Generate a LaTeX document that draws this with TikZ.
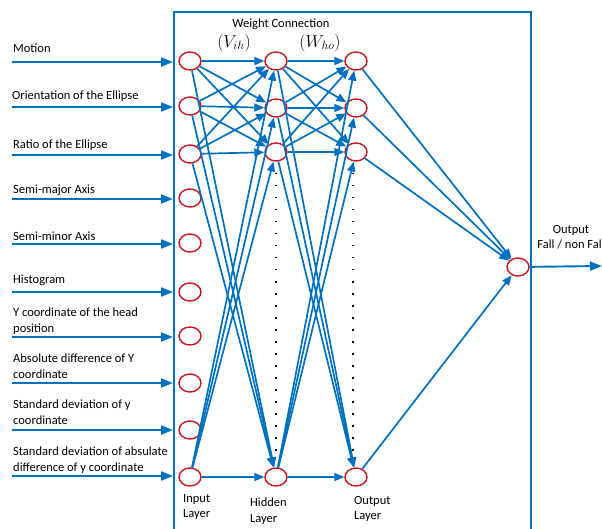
\documentclass[tikz,border=0pt]{standalone}
\usepackage{fontspec}
\setmainfont{Carlito}
\usepackage{tikz}
\usetikzlibrary{
  arrows.meta,
  shapes.geometric
}
\definecolor{netblue}{RGB}{0,112,192}
\definecolor{netred}{RGB}{200,20,30}

\begin{document}
\begin{tikzpicture}[x=1pt,y=-1pt,
          neuron/.style={
              ellipse,
              draw=netred,
              line width=1.4pt,
              minimum width=22pt,
              minimum height=18pt,
              inner sep=0pt
            },link/.style={
              draw=netblue,
              line width=1.7pt,
              -{Triangle[length=10pt,width=8pt]}
            },feed/.style={
              draw=netblue,
              line width=1.9pt,
              -{Triangle[length=12pt,width=9pt]}
            },feature/.style={
              anchor=west,
              align=left,
              inner sep=0pt,
              font=\fontsize{12.5}{16}\selectfont
            },layername/.style={
              anchor=west,
              align=left,
              inner sep=0pt,
              font=\fontsize{12.5}{15.5}\selectfont
            },dotline/.style={
              line width=1.5pt,
              dash pattern=on 1.5pt off 10.5pt
            }
        ]
        \useasboundingbox (0,0) rectangle (602,529);

        % network box (open at the bottom)
        \draw[netblue, line width=2.5pt] (174,529) -- (174,12) -- (531,12) -- (531,529);

        % input features
        \node[feature] (f1) at (13,48) {Motion};
        \node[feature] (f2) at (12,96) {Orientation of the Ellipse};
        \node[feature] (f3) at (13,145) {Ratio of the Ellipse};
        \node[feature] (f4) at (13,190) {Semi-major Axis};
        \node[feature] (f5) at (13,236) {Semi-minor Axis};
        \node[feature] (f6) at (13,280) {Histogram};
        \node[feature] (f7) at (13,321) {Y coordinate of the head\\position};
        \node[feature] (f8) at (13,366.5) {Absolute difference of Y\\coordinate};
        \node[feature] (f9) at (13,412) {Standard deviation of y\\coordinate};
        \node[feature] (f10) at (13,460) {Standard deviation of absulate\\difference of y coordinate};

        % input arrows
        \foreach \i/\y in {1/62,2/107,3/155,4/199,5/244,6/292,7/337,8/383,9/430,10/476}{
            \coordinate (src\i) at (12,\y);
            \coordinate (dst\i) at (173,\y);
            \draw[feed] (src\i) -- (dst\i);
          }

        % neurons
        \foreach \i/\y in {1/61,2/106,3/154,4/198,5/243,6/292,7/336,8/383,9/430,10/477}{
            \node[neuron] (in\i) at (190,\y) {};
          }
        \node[neuron] (hid1) at (276,61) {};
        \node[neuron] (hid2) at (276,108) {};
        \node[neuron] (hid3) at (276,152) {};
        \node[neuron] (hid4) at (276,477) {};
        \node[neuron] (op1) at (356,61) {};
        \node[neuron] (op2) at (356,108) {};
        \node[neuron] (op3) at (356,152) {};
        \node[neuron] (op4) at (356,477) {};
        \node[neuron] (fin) at (518,267) {};

        % weights
        \foreach \a in {1,2,3,10}{
            \foreach \b in {1,2,3,4}{
                \draw[link] (in\a) -- (hid\b);
              }
          }
        \foreach \a in {1,2,3,4}{
            \foreach \b in {1,2,3,4}{
                \draw[link] (hid\a) -- (op\b);
              }
            \draw[link] (op\a) -- (fin);
          }

        % omitted neurons
        \draw[dotline] (276,173) -- (276,456);
        \draw[dotline] (353,173) -- (353,456);

        % output
        \coordinate (result) at (602,266);
        \draw[feed] (fin) -- (result);
        \node[align=center, inner sep=0pt, font=\fontsize{12.5}{15}\selectfont] (outtxt) at (571,237.5) {Output\\Fall / non Fall};

        % titles
        \node[inner sep=0pt, font=\fontsize{12.5}{14}\selectfont] (wc) at (281,24) {Weight Connection};
        \node[inner sep=0pt, font=\fontsize{17}{17}\selectfont] (vih) at (234,43) {$(V_{ih})$};
        \node[inner sep=0pt, font=\fontsize{17}{17}\selectfont] (who) at (320,43) {$(W_{ho})$};
        \node[layername] (lin) at (183,507) {Input\\Layer};
        \node[layername] (lhid) at (250,511) {Hidden\\Layer};
        \node[layername] (lout) at (354,509) {Output\\Layer};
      \end{tikzpicture}
\end{document}
